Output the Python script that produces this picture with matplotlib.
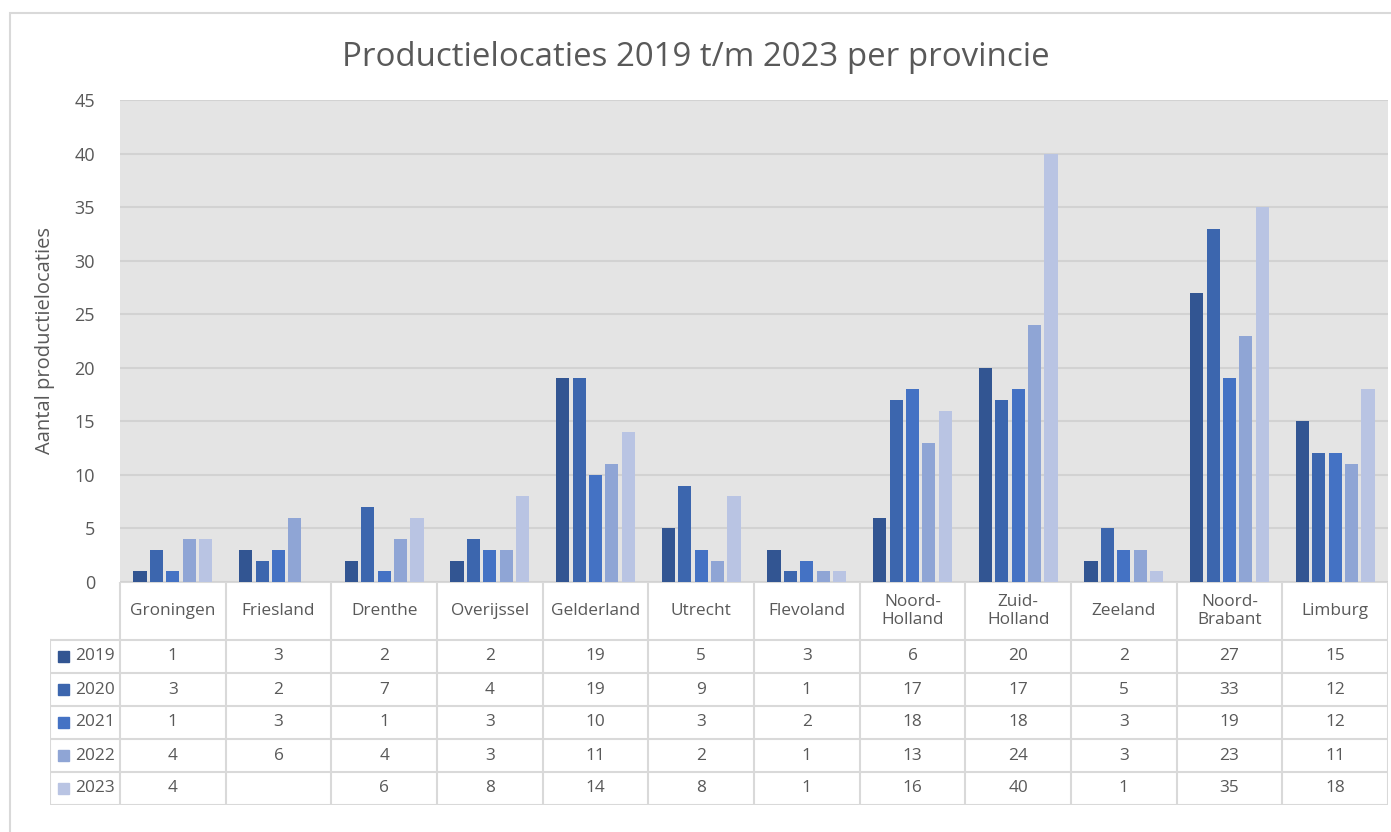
import numpy as np
import matplotlib.pyplot as plt
from matplotlib.patches import Rectangle

plt.rcParams['font.family'] = ['Open Sans', 'DejaVu Sans']

provinces = ['Groningen', 'Friesland', 'Drenthe', 'Overijssel', 'Gelderland', 'Utrecht',
             'Flevoland', 'Noord-\nHolland', 'Zuid-\nHolland', 'Zeeland', 'Noord-\nBrabant', 'Limburg']
years = ['2019', '2020', '2021', '2022', '2023']
v2019 = [1, 3, 2, 2, 19, 5, 3, 6, 20, 2, 27, 15]
v2020 = [3, 2, 7, 4, 19, 9, 1, 17, 17, 5, 33, 12]
v2021 = [1, 3, 1, 3, 10, 3, 2, 18, 18, 3, 19, 12]
v2022 = [4, 6, 4, 3, 11, 2, 1, 13, 24, 3, 23, 11]
v2023 = [4, np.nan, 6, 8, 14, 8, 1, 16, 40, 1, 35, 18]
series = [v2019, v2020, v2021, v2022, v2023]
colors = ['#325592', '#3C66AE', '#4472C4', '#8FA5D5', '#B9C4E3']

W, H = 1391, 832
fig = plt.figure(figsize=(W / 100, H / 100), dpi=100)
txt = '#595959'
grid = '#D2D2D2'

def fx(px):
    return px / W

def fy(py):
    return 1 - py / H

# outer chart border
fig.patches.append(Rectangle((fx(10), fy(845)), fx(1400), fy(13) - fy(845), transform=fig.transFigure,
                             fill=False, edgecolor='#D9D9D9', linewidth=1.5))

left, right, top, bottom = 120, 1388, 100, 582
ax = fig.add_axes([fx(left), fy(bottom), fx(right - left), fy(top) - fy(bottom)])
ax.set_facecolor('#E4E4E4')
n = len(provinces)
x = np.arange(n) + 0.5
pitch, bw = 0.155, 0.125
for i, (vals, c) in enumerate(zip(series, colors)):
    ax.bar(x + (i - 2) * pitch, vals, width=bw, color=c, zorder=3)
ax.set_xlim(0, n)
ax.set_ylim(0, 45)
ax.set_yticks(range(0, 46, 5))
ax.yaxis.grid(True, color=grid, linewidth=1.5, zorder=0)
ax.set_xticks([])
ax.tick_params(axis='y', length=0, labelsize=13, labelcolor=txt, pad=18)
for s in ax.spines.values():
    s.set_visible(False)
ax.set_ylabel('Aantal productielocaties', fontsize=14.5, color=txt, labelpad=14)
fig.text(0.5 * (fx(345) + fx(1047)), fy(57), 'Productielocaties 2019 t/m 2023 per provincie',
         ha='center', va='center', fontsize=23.8, color=txt)

# data table below the plot
tleft, tbottom = 50, 805
rowh = 33
head = bottom + 58
tab = fig.add_axes([fx(tleft), fy(tbottom), fx(right - tleft), fy(bottom) - fy(tbottom)])
unit = (right - left) / n
x0 = -(left - tleft) / unit
tab.set_xlim(x0, n)
tab.set_ylim(tbottom, bottom)
tab.axis('off')
lw = 1.5
lc = '#D9D9D9'
# vertical lines
for k in range(n + 1):
    tab.plot([k, k], [bottom, tbottom], color=lc, lw=lw)
tab.plot([x0, x0], [head, tbottom], color=lc, lw=lw)
# horizontal lines
tab.plot([0, n], [bottom, bottom], color=lc, lw=lw)
for r in range(len(years) + 1):
    yy = head + r * rowh
    tab.plot([x0, n], [yy, yy], color=lc, lw=lw)
for k, p in enumerate(provinces):
    tab.text(k + 0.5, (bottom + head) / 2, p, ha='center', va='center', fontsize=12.4,
             color=txt, linespacing=1.25)
for r, (yr, vals, c) in enumerate(zip(years, series, colors)):
    yc = head + (r + 0.5) * rowh
    tab.add_patch(Rectangle((x0 + 0.08, yc - 5.5), 0.1, 11, color=c))
    tab.text(x0 + 0.24, yc, yr, ha='left', va='center', fontsize=12.4, color=txt)
    for k, v in enumerate(vals):
        if not np.isnan(v):
            tab.text(k + 0.5, yc, str(int(v)), ha='center', va='center', fontsize=12.4, color=txt)

fig.savefig('out.png', dpi=100)
